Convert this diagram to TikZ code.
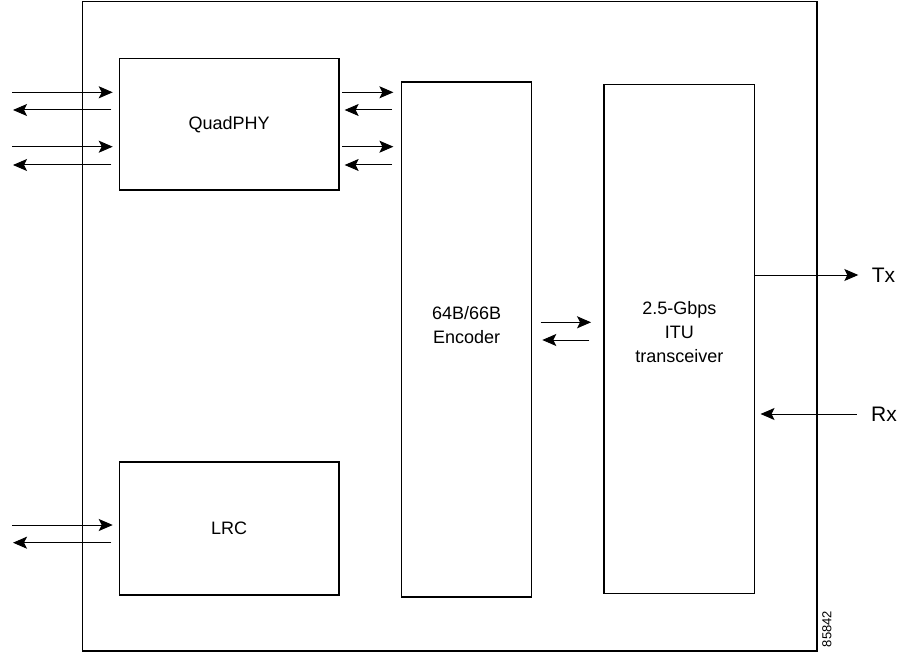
\documentclass[tikz,border=0pt]{standalone}
\usepackage{fontspec}
\setmainfont{Liberation Sans}
\usetikzlibrary{arrows.meta}
\begin{document}
\begin{tikzpicture}[x=1pt,y=-1pt,
  box/.style={draw, line width=1.2pt, inner sep=0pt},
  txt/.style={inner sep=0pt, align=center, font=\fontsize{18}{24}\selectfont},
  arr/.style={line width=1pt, -{Stealth[length=14pt,width=12pt,inset=3pt]}},
  lbl/.style={font=\fontsize{21}{24}\selectfont, inner sep=0pt}]
\useasboundingbox (0,0) rectangle (904,652);
\node[draw, line width=1.4pt, minimum width=734.5pt, minimum height=649.5pt, inner sep=0pt] (frame) at (449.75,326.25) {};
\node[box, minimum width=219.7pt, minimum height=131.3pt] (quad) at (229.2,124.3) {};
\node[box, minimum width=219.7pt, minimum height=133pt] (lrc) at (229.2,528.5) {};
\node[box, minimum width=130pt, minimum height=515pt] (enc) at (466.7,339.5) {};
\node[box, minimum width=150.7pt, minimum height=509pt] (trx) at (679.3,338.8) {};
\node[txt] (quadtxt) at (quad.center) {QuadPHY};
\node[txt] (lrctxt) at (lrc.center) {LRC};
\node[txt] (enctxt) at (466.7,325) {64B/66B\\Encoder};
\node[txt] (trxtxt) at (679.3,332) {2.5-Gbps\\ITU\\transceiver};
% y levels
\coordinate (a1) at (0,92.3);
\coordinate (a2) at (0,110);
\coordinate (a3) at (0,146.7);
\coordinate (a4) at (0,165);
\coordinate (l1) at (0,525);
\coordinate (l2) at (0,542.7);
\coordinate (m1) at (0,322.3);
\coordinate (m2) at (0,340);
% left free ends
\coordinate (s1) at (12,92.3);
\coordinate (s2) at (13,110);
\coordinate (s3) at (12,146.7);
\coordinate (s4) at (13,165);
\coordinate (s5) at (12,525);
\coordinate (s6) at (13,542.7);
\draw[arr] (s1) -- ([xshift=-6pt]quad.west |- a1);
\draw[arr] ([xshift=-7.5pt]quad.west |- a2) -- (s2);
\draw[arr] (s3) -- ([xshift=-6pt]quad.west |- a3);
\draw[arr] ([xshift=-7.5pt]quad.west |- a4) -- (s4);
\draw[arr] (s5) -- ([xshift=-6pt]lrc.west |- l1);
\draw[arr] ([xshift=-7.5pt]lrc.west |- l2) -- (s6);
% quad to encoder
\draw[arr] ([xshift=2.7pt]quad.east |- a1) -- ([xshift=-7.7pt]enc.west |- a1);
\draw[arr] ([xshift=-9pt]enc.west |- a2) -- ([xshift=5pt]quad.east |- a2);
\draw[arr] ([xshift=2.7pt]quad.east |- a3) -- ([xshift=-7.7pt]enc.west |- a3);
\draw[arr] ([xshift=-9pt]enc.west |- a4) -- ([xshift=5pt]quad.east |- a4);
% encoder to transceiver
\draw[arr] ([xshift=8.3pt]enc.east |- m1) -- ([xshift=-12.3pt]trx.west |- m1);
\draw[arr] ([xshift=-14pt]trx.west |- m2) -- ([xshift=10pt]enc.east |- m2);
% Tx / Rx
\node[lbl] (tx) at (883.5,275) {Tx};
\node[lbl] (rx) at (884,414) {Rx};
\coordinate (txe) at (858.3,275);
\coordinate (rxs) at (856.7,414);
\draw[arr] (trx.east |- txe) -- (txe);
\draw[arr] (rxs) -- ([xshift=5.3pt]trx.east |- rxs);
\node[rotate=90, inner sep=0pt, font=\fontsize{13}{15}\selectfont] (num) at (827,629) {85842};
\end{tikzpicture}
\end{document}
